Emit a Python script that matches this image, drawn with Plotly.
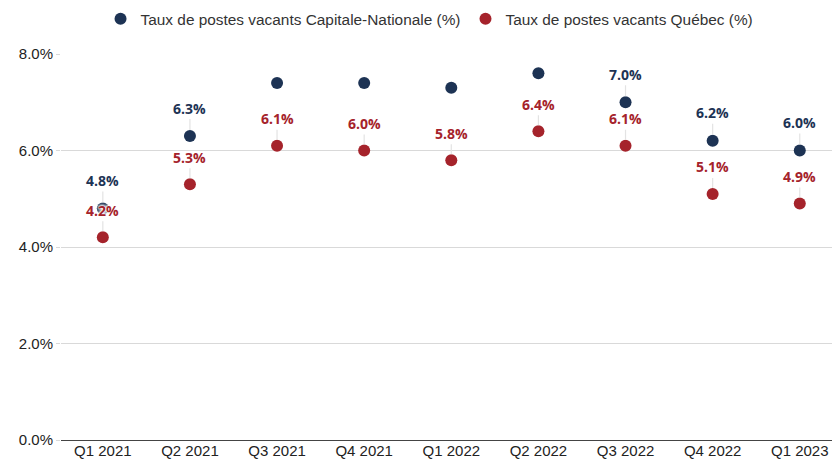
import plotly.graph_objects as go

categories = ["Q1 2021", "Q2 2021", "Q3 2021", "Q4 2021", "Q1 2022", "Q2 2022", "Q3 2022", "Q4 2022", "Q1 2023"]
capitale = [4.8, 6.3, 7.4, 7.4, 7.3, 7.6, 7.0, 6.2, 6.0]
quebec = [4.2, 5.3, 6.1, 6.0, 5.8, 6.4, 6.1, 5.1, 4.9]
capitale_label_shown = [True, True, False, False, False, False, True, True, True]
quebec_label_shown = [True] * 9

NAVY = "#1d3354"
RED = "#a5232b"
name_cap = "Taux de postes vacants Capitale-Nationale (%)"
name_qc = "Taux de postes vacants Québec (%)"

fig = go.Figure()
fig.add_trace(go.Scatter(x=categories, y=capitale, mode="markers", name=name_cap,
                         marker=dict(color=NAVY, size=12), cliponaxis=False))
fig.add_trace(go.Scatter(x=categories, y=quebec, mode="markers", name=name_qc,
                         marker=dict(color=RED, size=12), cliponaxis=False))

halo = "0 0 2px white, 0 0 2px white, 0 0 3px white, 0 0 3px white, 0 0 4px white"
annotations = []
for cat, v, show in zip(categories, capitale, capitale_label_shown):
    if show:
        annotations.append(dict(x=cat, y=v, xref="x", yref="y", text=f"{v:.1f}%",
                                showarrow=True, arrowhead=0, arrowwidth=1.2, arrowcolor="#e3e3e3",
                                ax=0, ay=-28, standoff=6,
                                font=dict(family="Open Sans", size=14, color=NAVY, weight="bold", shadow=halo)))
for cat, v, show in zip(categories, quebec, quebec_label_shown):
    if show:
        annotations.append(dict(x=cat, y=v, xref="x", yref="y", text=f"{v:.1f}%",
                                showarrow=True, arrowhead=0, arrowwidth=1.2, arrowcolor="#e3e3e3",
                                ax=0, ay=-27, standoff=6,
                                font=dict(family="Open Sans", size=14, color=RED, weight="bold", shadow=halo)))

fig.update_layout(
    width=832, height=463,
    margin=dict(l=61, r=0, t=54, b=23, autoexpand=False),
    paper_bgcolor="white", plot_bgcolor="white",
    font=dict(family="Liberation Sans, Arial", size=15, color="#333333"),
    showlegend=True,
    legend=dict(orientation="h", x=0.478, xanchor="center", y=1.09, yanchor="middle",
                font=dict(size=15.4, color="#333333"), itemsizing="constant"),
    annotations=annotations,
    xaxis=dict(type="category", range=[-0.48, 8.37], showgrid=False, zeroline=False,
               showline=False, ticks="", tickfont=dict(size=15, color="#222222")),
    yaxis=dict(range=[0, 8], tickvals=[0, 2, 4, 6, 8], ticktext=["0.0%", "2.0%", "4.0%", "6.0%", "8.0%"],
               showgrid=True, gridcolor="#d9d9d9", gridwidth=1, zeroline=True, zerolinecolor="#444444",
               zerolinewidth=1, showline=False, ticks="outside", ticklen=4, tickcolor="#d9d9d9",
               tickfont=dict(size=15, color="#222222")),
)

fig.write_html("out.html", config={"displayModeBar": False},
               post_script="document.body.style.margin='0';")
